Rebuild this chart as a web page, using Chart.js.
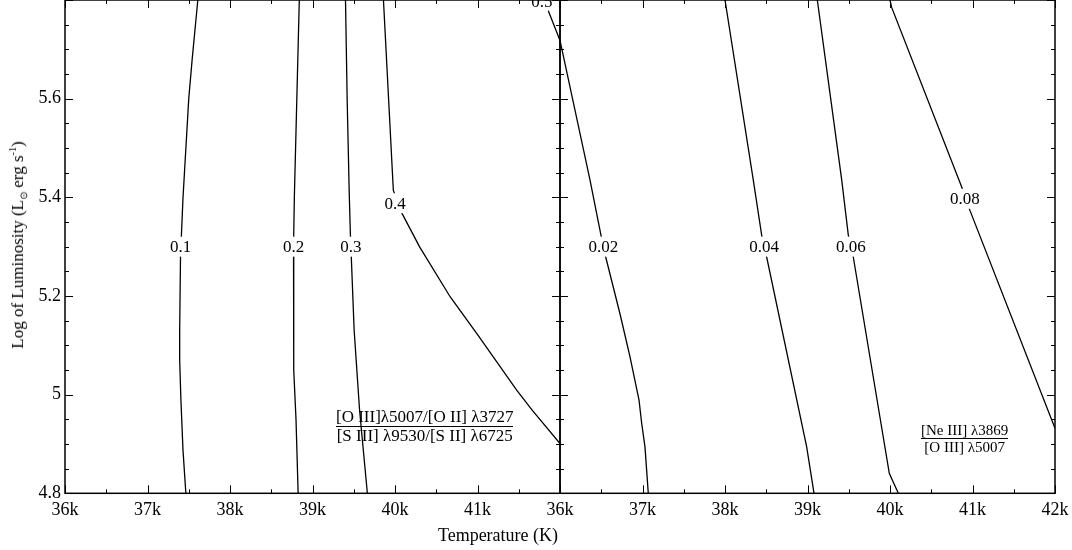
<!DOCTYPE html>
<html lang="en">
  <head>
    <meta charset="UTF-8" />
    <title>Line ratio contours</title>
    <script src="https://cdn.jsdelivr.net/npm/chart.js"></script>
    <style>
      body {
        margin: 0;
        background: #fff;
        font-family: "Liberation Serif", "Times New Roman", serif;
        color: #000;
      }
      .wrap {
        position: relative;
        width: 1072px;
        height: 550px;
        overflow: hidden;
      }
      .wrap canvas {
        position: absolute;
        left: 0;
        top: 0;
      }
      .ytitle {
        position: absolute;
        left: 18px;
        top: 245px;
        font-size: 17px;
        white-space: nowrap;
        transform: translate(-50%, -50%) rotate(-90deg);
      }
      .xtitle {
        position: absolute;
        left: 498px;
        top: 535px;
        font-size: 18px;
        white-space: nowrap;
        transform: translate(-50%, -50%);
      }
      .ratio {
        position: absolute;
        text-align: center;
        white-space: nowrap;
      }
      .ratio .num {
        border-bottom: 1px solid #000;
      }
      #ratioLeft {
        left: 336px;
        top: 408px;
        font-size: 17px;
        line-height: 18px;
      }
      #ratioRight {
        left: 921px;
        top: 422px;
        font-size: 15px;
        line-height: 16px;
      }
      sub, sup {
        font-size: 60%;
        line-height: 0;
      }
    </style>
  </head>
  <body>
    <div class="wrap">
      <canvas id="leftChart" width="1072" height="550"></canvas>
      <canvas id="rightChart" width="1072" height="550"></canvas>
      <div class="ytitle">Log of Luminosity (L<sub>⊙</sub> erg s<sup>-1</sup>)</div>
      <div class="xtitle">Temperature (K)</div>
      <div class="ratio" id="ratioLeft">
        <div class="num">[O III]λ5007/[O II] λ3727</div>
        <div>[S III] λ9530/[S II] λ6725</div>
      </div>
      <div class="ratio" id="ratioRight">
        <div class="num">[Ne III] λ3869</div>
        <div>[O III] λ5007</div>
      </div>
    </div>

    <script>
      // temperature in kK, log luminosity
      const tempTicks = [36, 37, 38, 39, 40, 41, 42];
      const lumTicks = [4.8, 5.0, 5.2, 5.4, 5.6, 5.8];

      // left panel: ([O III]/[O II]) / ([S III]/[S II])
      const c01T = [37.61, 37.54, 37.5, 37.43, 37.41, 37.4, 37.39, 37.39, 37.405, 37.43, 37.465];
      const c01L = [5.8, 5.677, 5.6, 5.398, 5.319, 5.278, 5.131, 5.07, 4.989, 4.888, 4.8];
      const c02T = [38.84, 38.81, 38.78, 38.77, 38.77, 38.775, 38.8, 38.826];
      const c02L = [5.8, 5.6, 5.4, 5.3, 5.13, 5.05, 4.95, 4.8];
      const c03T = [39.4, 39.42, 39.445, 39.46, 39.47, 39.505, 39.57, 39.665];
      const c03L = [5.8, 5.6, 5.41, 5.32, 5.28, 5.13, 4.97, 4.8];
      const c04T = [39.86, 39.98, 40.08, 40.3, 40.67, 40.99, 41.475, 41.66, 42.0];
      const c04L = [5.8, 5.414, 5.369, 5.299, 5.198, 5.124, 5.009, 4.969, 4.901];

      const leftLevels = ["0.1", "0.2", "0.3", "0.4", "0.5"];
      const leftLabelT = [37.4, 38.77, 39.465, 40.0, 41.78];
      const leftLabelL = [5.3, 5.3, 5.3, 5.388, 5.797];

      // right panel: [Ne III] / [O III]
      const n02T = [35.858, 36.0, 36.364, 36.497, 36.554, 36.727, 36.848, 36.958, 36.99, 37.03, 37.07];
      const n02L = [5.778, 5.718, 5.435, 5.323, 5.279, 5.164, 5.077, 4.989, 4.942, 4.894, 4.8];
      const n04T = [38.0, 38.343, 38.445, 38.505, 38.99, 39.079];
      const n04L = [5.8, 5.435, 5.323, 5.279, 4.894, 4.8];
      const n06T = [39.119, 39.415, 39.495, 39.555, 39.992, 40.101];
      const n06L = [5.8, 5.435, 5.323, 5.279, 4.84, 4.8];
      const n08T = [40.0, 40.02, 40.869, 40.97, 42.0];
      const n08L = [5.8, 5.785, 5.421, 5.373, 4.932];

      const rightLevels = ["0.02", "0.04", "0.06", "0.08"];
      const rightLabelT = [36.525, 38.473, 39.527, 40.909];
      const rightLabelL = [5.3, 5.3, 5.3, 5.397];

      Chart.defaults.font.family = "'Liberation Serif', 'Times New Roman', serif";
      Chart.defaults.color = "#000";

      function contour(xs, ys, extra) {
        return Object.assign(
          {
            data: xs.map((t, i) => ({ x: t, y: ys[i] })),
            showLine: true,
            borderColor: "#000",
            borderWidth: 1.3,
            pointRadius: 0,
            tension: 0,
            fill: false,
          },
          extra || {}
        );
      }

      // inward ticks, box, contour labels
      const frame = {
        id: "frame",
        afterDatasetsDraw(chart, args, opts) {
          const ctx = chart.ctx;
          const a = chart.chartArea;
          const x = chart.scales.x;
          const y = chart.scales.y;
          ctx.save();

          ctx.font = "17px 'Liberation Serif', serif";
          ctx.textAlign = "center";
          ctx.textBaseline = "middle";
          opts.text.forEach((s, i) => {
            const px = x.getPixelForValue(opts.t[i]);
            const py = y.getPixelForValue(opts.l[i]);
            const w = ctx.measureText(s).width;
            ctx.fillStyle = "#fff";
            ctx.fillRect(px - w / 2 - 1, py - 10, w + 2, 20);
            ctx.fillStyle = "#000";
            ctx.fillText(s, px, py + 1);
          });

          ctx.strokeStyle = "#000";
          ctx.lineWidth = 1;
          ctx.beginPath();
          for (let i = 0; i <= 12; i++) {
            const px = Math.round(x.getPixelForValue(36 + i * 0.5)) + 0.5;
            const len = i % 2 === 0 ? 8 : 4;
            ctx.moveTo(px, a.bottom);
            ctx.lineTo(px, a.bottom - len);
            ctx.moveTo(px, a.top);
            ctx.lineTo(px, a.top + len);
          }
          for (let i = 0; i <= 20; i++) {
            const py = Math.round(y.getPixelForValue(4.8 + i * 0.05)) + 0.5;
            const len = i % 4 === 0 ? 8 : 4;
            ctx.moveTo(a.left, py);
            ctx.lineTo(a.left + len, py);
            ctx.moveTo(a.right, py);
            ctx.lineTo(a.right - len, py);
          }
          ctx.stroke();

          ctx.lineWidth = 1.5;
          ctx.strokeRect(a.left, a.top, a.right - a.left, a.bottom - a.top);
          ctx.restore();
        },
      };

      function xScale(hideLast) {
        return {
          type: "linear",
          min: 36,
          max: 42,
          grid: { display: false, drawTicks: false },
          border: { display: false },
          afterBuildTicks: (s) => {
            s.ticks = tempTicks.map((v) => ({ value: v }));
          },
          ticks: {
            autoSkip: false,
            maxRotation: 0,
            padding: 6,
            font: { size: 18 },
            callback: (v) => (hideLast && v === 42 ? "" : v + "k"),
          },
          afterFit: (s) => {
            s.height = 56.7;
            s.paddingLeft = 0;
            s.paddingRight = 0;
          },
        };
      }

      new Chart(document.getElementById("leftChart"), {
        type: "scatter",
        data: {
          datasets: [
            contour(c01T, c01L),
            contour(c02T, c02L),
            contour(c03T, c03L),
            contour(c04T, c04L),
          ],
        },
        options: {
          responsive: false,
          animation: false,
          layout: { padding: { left: 0, top: 0, right: 512, bottom: 0 } },
          plugins: {
            legend: { display: false },
            tooltip: { enabled: false },
            frame: { text: leftLevels, t: leftLabelT, l: leftLabelL },
          },
          scales: {
            x: xScale(true),
            y: {
              type: "linear",
              min: 4.8,
              max: 5.8,
              grid: { display: false, drawTicks: false },
              border: { display: false },
              afterBuildTicks: (s) => {
                s.ticks = lumTicks.map((v) => ({ value: v }));
              },
              ticks: {
                padding: 4,
                font: { size: 18 },
                callback: (v) => (v > 5.75 ? "" : String(Math.round(v * 10) / 10)),
              },
              afterFit: (s) => {
                s.width = 65;
                s.paddingTop = 0;
                s.paddingBottom = 0;
              },
            },
          },
        },
        plugins: [frame],
      });

      new Chart(document.getElementById("rightChart"), {
        type: "scatter",
        data: {
          datasets: [
            contour(n02T, n02L, { clip: false }),
            contour(n04T, n04L),
            contour(n06T, n06L),
            contour(n08T, n08L),
          ],
        },
        options: {
          responsive: false,
          animation: false,
          layout: { padding: { left: 560, top: 0, right: 17, bottom: 0 } },
          plugins: {
            legend: { display: false },
            tooltip: { enabled: false },
            frame: { text: rightLevels, t: rightLabelT, l: rightLabelL },
          },
          scales: {
            x: xScale(false),
            y: { type: "linear", min: 4.8, max: 5.8, display: false },
          },
        },
        plugins: [frame],
      });
    </script>
  </body>
</html>
